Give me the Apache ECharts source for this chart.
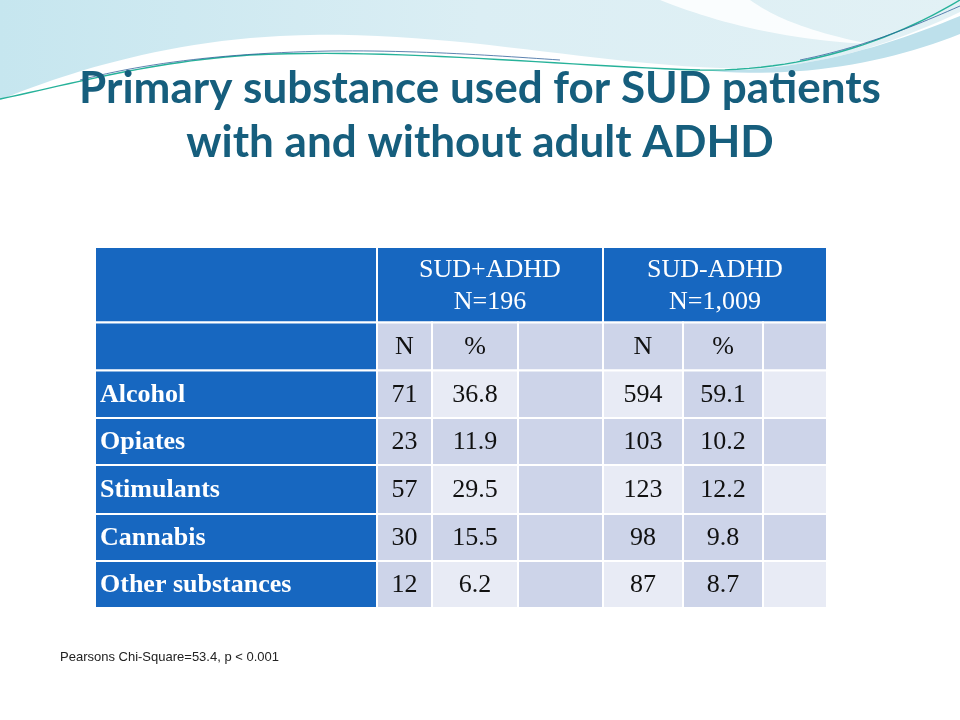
<!DOCTYPE html>
<html>
<head>
<meta charset="utf-8">
<script src="https://cdn.jsdelivr.net/npm/echarts@6/dist/echarts.min.js"></script>
<style>html,body{margin:0;padding:0;background:#fff;}#chart{width:960px;height:720px;}</style>
</head>
<body>
<div id="chart"></div>
<script>
// ---- data ----
const titleLines = ['Primary substance used for SUD patients', 'with and without adult ADHD'];
const substances = ['Alcohol', 'Opiates', 'Stimulants', 'Cannabis', 'Other substances'];
const groupHeaders = ['SUD+ADHD\nN=196', 'SUD-ADHD\nN=1,009'];
const subHeaders = ['N', '%', '', 'N', '%', ''];
const adhdN = [71, 23, 57, 30, 12];
const adhdPct = [36.8, 11.9, 29.5, 15.5, 6.2];
const noAdhdN = [594, 103, 123, 98, 87];
const noAdhdPct = [59.1, 10.2, 12.2, 9.8, 8.7];
const footnote = 'Pearsons Chi-Square=53.4, p < 0.001';

// ---- layout (table units = px inside grid) ----
const colEdges = [0, 282, 337, 423, 508, 588, 668, 732];
const rowEdges = [0, 75.5, 123.5, 171, 218, 267, 314, 361];
const BLUE = '#1767c0', DARK = '#cdd4e9', LIGHT = '#e8ebf5';
const SERIF = '"Liberation Serif", "DejaVu Serif", serif';

const cells = [];
function addCell(c0, c1, r, text, fill, opts) {
  cells.push(Object.assign({x0: colEdges[c0], x1: colEdges[c1], y0: rowEdges[r], y1: rowEdges[r + 1], text: text, fill: fill}, opts || {}));
}
addCell(0, 1, 0, '', BLUE);
addCell(1, 4, 0, groupHeaders[0], BLUE, {color: '#fff', lineHeight: 32});
addCell(4, 7, 0, groupHeaders[1], BLUE, {color: '#fff', lineHeight: 32});
addCell(0, 1, 1, '', BLUE);
subHeaders.forEach(function (h, i) { addCell(i + 1, i + 2, 1, h, DARK, {color: '#111'}); });
substances.forEach(function (s, r) {
  addCell(0, 1, r + 2, s, BLUE, {color: '#fff', bold: true, left: true});
  const vals = [adhdN[r], adhdPct[r], '', noAdhdN[r], noAdhdPct[r], ''];
  vals.forEach(function (v, c) {
    const fill = (r % 2 === 1 || c % 2 === 0) ? DARK : LIGHT;
    addCell(c + 1, c + 2, r + 2, v === '' ? '' : String(v), fill, {color: '#111'});
  });
});

// decorative swoosh: sample cubic bezier segments into polygon/polyline points
function curvePoints(start, segs) {
  const pts = [start.slice()];
  let p = start.slice();
  segs.forEach(function (s) {
    if (s.length === 2) { pts.push(s.slice()); p = s.slice(); return; }
    for (let i = 1; i <= 24; i++) {
      const t = i / 24, u = 1 - t;
      pts.push([u*u*u*p[0] + 3*u*u*t*s[0] + 3*u*t*t*s[2] + t*t*t*s[4], u*u*u*p[1] + 3*u*u*t*s[1] + 3*u*t*t*s[3] + t*t*t*s[5]]);
    }
    p = [s[4], s[5]];
  });
  return pts;
}

const chart = echarts.init(document.getElementById('chart'), null, {renderer: 'canvas'});
chart.setOption({
  backgroundColor: '#ffffff',
  animation: false,
  title: {
    text: titleLines.join('\n'),
    left: 'center',
    top: 57,
    textStyle: {fontFamily: 'Lato, "Open Sans", sans-serif', fontWeight: 'bold', fontSize: 44, lineHeight: 54, color: '#165e7d'}
  },
  grid: {left: 95, top: 247, width: 732, height: 361},
  xAxis: {type: 'value', min: 0, max: 732, show: false},
  yAxis: {type: 'value', min: 0, max: 361, inverse: true, show: false},
  graphic: [
    {type: 'polygon', z: -10, shape: {points: curvePoints([0, 0], [[960, 0], [960, 12], [880, 50, 800, 72, 720, 68], [580, 63, 440, 28, 280, 36], [160, 42, 60, 75, 0, 100]])},
     style: {fill: {type: 'linear', x: 0, y: 0, x2: 1, y2: 0, colorStops: [{offset: 0, color: '#c6e6ef'}, {offset: 0.5, color: '#dbeef4'}, {offset: 1, color: '#e2f1f5'}]}}},
    {type: 'polygon', z: -9, shape: {points: curvePoints([660, 0], [[710, 20, 780, 40, 870, 44], [800, 30, 770, 14, 750, 0]])}, style: {fill: 'rgba(255,255,255,0.85)'}},
    {type: 'polygon', z: -9, shape: {points: curvePoints([700, 70], [[800, 74, 890, 45, 960, 16], [960, 34], [890, 62, 800, 80, 700, 70]])}, style: {fill: '#bde0eb'}},
    {type: 'polyline', z: -8, shape: {points: curvePoints([0, 99], [[80, 82, 150, 62, 250, 55], [400, 48, 560, 66, 700, 70], [800, 72, 890, 42, 960, 0]])}, style: {fill: null, stroke: '#27b29a', lineWidth: 1.4}},
    {type: 'polyline', z: -8, shape: {points: curvePoints([80, 80], [[150, 62, 230, 53, 330, 51], [420, 50, 500, 56, 560, 60]])}, style: {fill: null, stroke: 'rgba(40,90,150,0.75)', lineWidth: 1}},
    {type: 'polyline', z: -8, shape: {points: curvePoints([800, 60], [[860, 48, 910, 28, 960, 6]])}, style: {fill: null, stroke: 'rgba(40,90,150,0.75)', lineWidth: 1}},
    {type: 'text', x: 60, y: 657, style: {text: footnote, fill: '#222', font: '13px "Liberation Sans", Arial, sans-serif', verticalAlign: 'middle'}}
  ],
  series: [{
    type: 'custom',
    coordinateSystem: 'cartesian2d',
    data: cells.map(function (c) { return [c.x0, c.y0, c.x1, c.y1]; }),
    renderItem: function (params, api) {
      const c = cells[params.dataIndex];
      const p0 = api.coord([api.value(0), api.value(1)]);
      const p1 = api.coord([api.value(2), api.value(3)]);
      const children = [{type: 'rect', shape: {x: p0[0], y: p0[1], width: p1[0] - p0[0], height: p1[1] - p0[1]}, style: {fill: c.fill, stroke: '#ffffff', lineWidth: 2}}];
      if (c.text) {
        children.push({type: 'text', x: c.left ? p0[0] + 5 : (p0[0] + p1[0]) / 2, y: (p0[1] + p1[1]) / 2 + 1,
          style: {text: c.text, fill: c.color, align: c.left ? 'left' : 'center', verticalAlign: 'middle',
            font: (c.bold ? 'bold ' : '') + '26px ' + SERIF, lineHeight: c.lineHeight || 30}});
      }
      return {type: 'group', children: children};
    }
  }]
});
</script>
</body>
</html>
